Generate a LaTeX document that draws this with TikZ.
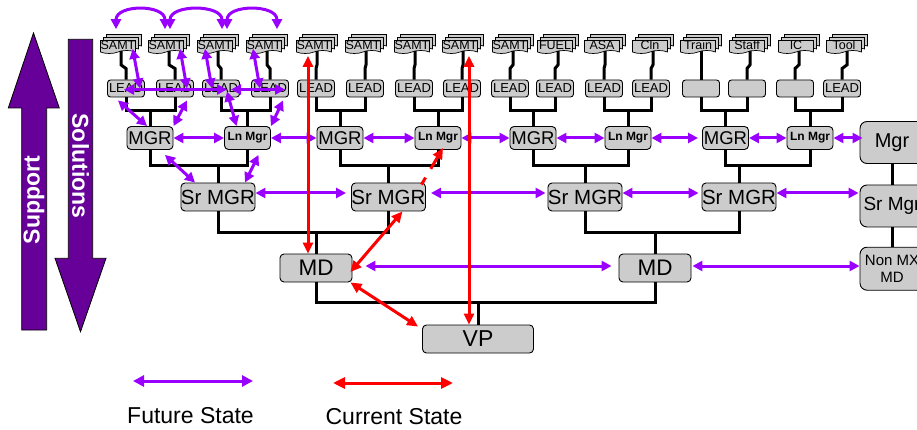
\documentclass[tikz,border=0pt]{standalone}
\usepackage{fontspec}
\setmainfont{Liberation Sans}
\usetikzlibrary{arrows.meta,calc,shapes.symbols,shadows}
\definecolor{boxgray}{HTML}{CCCCCC}
\definecolor{fut}{HTML}{9900FF}
\definecolor{cur}{HTML}{FF0000}
\definecolor{bigpurple}{HTML}{660099}
\begin{document}
\begin{tikzpicture}[x=1pt,y=-1pt,
  box/.style={draw=black, line width=0.9pt, fill=boxgray, rounded corners=4pt, inner sep=0pt, align=center},
  doc/.style={tape, tape bend top=none, tape bend height=3pt, draw=black, line width=0.7pt, fill=boxgray,
    minimum width=35pt, minimum height=13pt, inner sep=0pt,
    copy shadow={shadow xshift=6pt, shadow yshift=6pt, fill=boxgray, draw=black, line width=0.7pt},
    copy shadow={shadow xshift=3pt, shadow yshift=3pt, fill=boxgray, draw=black, line width=0.7pt},
    font=\fontsize{12.5}{14}\selectfont},
  lead/.style={box, minimum width=37pt, minimum height=17pt, rounded corners=3pt, font=\fontsize{13}{15}\selectfont},
  mgr/.style={box, minimum width=46pt, minimum height=23pt, font=\fontsize{18.5}{20}\selectfont},
  lnmgr/.style={box, minimum width=46pt, minimum height=23pt, font=\bfseries\fontsize{12}{14}\selectfont},
  srmgr/.style={box, minimum width=72pt, minimum height=28pt, font=\fontsize{20.5}{22}\selectfont},
  mdbox/.style={box, minimum width=72pt, minimum height=28pt, font=\fontsize{22.5}{24}\selectfont},
  rbox/.style={box, minimum width=64pt, rounded corners=7pt},
  conn/.style={line width=3pt, black},
  fa/.style={line width=3pt, fut, {Triangle[length=10pt,width=10pt]}-{Triangle[length=10pt,width=10pt]}},
  ca/.style={line width=3pt, cur, {Triangle[length=11pt,width=10pt]}-{Triangle[length=11pt,width=10pt]}},
  bigarrow/.style={draw=black, line width=0.8pt, fill=bigpurple},
  bigtext/.style={white, font=\bfseries\fontsize{23}{25}\selectfont},
  legend/.style={font=\fontsize{23}{25}\selectfont}
]
\path[use as bounding box, fill=white] (0,0) rectangle (917,430);

% big arrows
\draw[bigarrow] (21.7,330) -- (21.7,108) -- (8.3,108) -- (33.5,33) -- (59.3,108) -- (46.7,108) -- (46.7,330) -- cycle;
\draw[bigarrow] (68.3,39.3) -- (68.3,258.3) -- (55,258.3) -- (80.5,331.7) -- (106,258.3) -- (92.7,258.3) -- (92.7,39.3) -- cycle;
\node[bigtext, rotate=90] (support) at (34,200) {Support};
\node[bigtext, rotate=-90] (solutions) at (80.5,166) {Solutions};

% documents
\foreach \i/\x/\t in {1/118/SAMT,2/166/SAMT,3/215/SAMT,4/264/SAMT,5/314/SAMT,6/363/SAMT,7/412/SAMT,8/460/SAMT,9/510/SAMT,10/555/FUEL,11/602/ASA,12/650/Cln,13/698/Train,14/747/Staff,15/796/IC,16/844/Tool}
  \node[doc] (S\i) at (\x,45.5) {\t};
% leads
\foreach \i/\x/\t in {1/126/LEAD,2/175/LEAD,3/221/LEAD,4/270/LEAD,5/316/LEAD,6/365/LEAD,7/414/LEAD,8/462/LEAD,9/510/LEAD,10/555/LEAD,11/604/LEAD,12/651/LEAD,13/701/{},14/747/{},15/795/{},16/842/LEAD}
  \node[lead] (L\i) at (\x,88.5) {\t};

% managers
\node[mgr] (M1) at (150,138) {MGR};
\node[lnmgr] (LM1) at (247.5,138) {Ln Mgr};
\node[mgr] (M2) at (340,138) {MGR};
\node[lnmgr] (LM2) at (438,138) {Ln Mgr};
\node[mgr] (M3) at (533,138) {MGR};
\node[lnmgr] (LM3) at (628,138) {Ln Mgr};
\node[mgr] (M4) at (725.5,138) {MGR};
\node[lnmgr] (LM4) at (810,138) {Ln Mgr};

\node[srmgr] (SR1) at (218,197) {Sr MGR};
\node[srmgr] (SR2) at (388.5,197) {Sr MGR};
\node[srmgr] (SR3) at (585,197) {Sr MGR};
\node[srmgr] (SR4) at (739,197) {Sr MGR};

\node[mdbox] (MD1) at (316,268) {MD};
\node[mdbox] (MD2) at (655,268) {MD};
\node[box, minimum width=111pt, minimum height=28pt, font=\fontsize{23}{25}\selectfont] (VP) at (478,339) {VP};

\node[rbox, minimum height=42pt, font=\fontsize{20}{22}\selectfont] (R1) at (892,142.5) {Mgr};
\node[rbox, minimum height=42pt, font=\fontsize{19}{21}\selectfont] (R2) at (892,206) {Sr Mgr};
\node[rbox, minimum height=43pt, font=\fontsize{15}{17}\selectfont] (R3) at (892,268.7) {Non MX\\MD};

% black tree connectors
\foreach \i in {1,...,16}
  \draw[conn] ($(S\i.south)+(3,0)$) -- ++(0,14) -- ($(L\i.north)+(0,-11)$) -- (L\i.north);
\foreach \a/\b/\p in {1/2/M1,3/4/LM1,5/6/M2,7/8/LM2,9/10/M3,11/12/LM3,13/14/M4,15/16/LM4} {
  \coordinate (J\p) at ($(\p.north)+(0,-15.5)$);
  \draw[conn] (L\a.south) |- (J\p) -| (L\b.south);
  \draw[conn] (J\p) -- (\p.north);
}
\foreach \a/\b/\p in {M1/LM1/SR1,M2/LM2/SR2,M3/LM3/SR3,M4/LM4/SR4} {
  \coordinate (J\p) at ($(\p.north)+(0,-17)$);
  \draw[conn] (\a.south) |- (J\p) -| (\b.south);
  \draw[conn] (J\p) -- (\p.north);
}
\foreach \a/\b/\p in {SR1/SR2/MD1,SR3/SR4/MD2} {
  \coordinate (J\p) at ($(\p.north)+(0,-21)$);
  \draw[conn] (\a.south) |- (J\p) -| (\b.south);
  \draw[conn] (J\p) -- (\p.north);
}
\coordinate (JVP) at ($(VP.north)+(0,-22)$);
\draw[conn] (MD1.south) |- (JVP) -| (MD2.south);
\draw[conn] (JVP) -- (VP.north);
\draw[conn] (R1.south) -- (R2.north);
\draw[conn] (R2.south) -- (R3.north);

% future state (purple)
\draw[fa] ($(S1.north)+(-2,-11)$) .. controls +(0,-25) and +(0,-25) .. ($(S2.north)+(-1,-11)$);
\draw[fa] ($(S2.north)+(4,-11)$) .. controls +(0,-25) and +(0,-25) .. ($(S3.north)+(7,-11)$);
\draw[fa] ($(S3.north)+(12,-11)$) .. controls +(0,-25) and +(0,-25) .. ($(S4.north)+(13,-11)$);
\draw[fa] ($(S1.south)+(14.7,-2)$) -- ($(L1.center)+(14,0)$);
\draw[fa] ($(S2.south)+(14,-2)$) -- ($(L2.center)+(12,0)$);
\draw[fa] ($(S3.south)+(-10,-2)$) -- ($(L3.center)+(-9,0)$);
\draw[fa] ($(S4.south)+(-11,-2)$) -- ($(L4.center)+(-10,0)$);
\draw[fa] ($(L1.center)+(-2,1)$) -- ($(L3.center)+(6,1)$);
\draw[fa] ($(L3.center)+(10,1)$) -- ($(L4.center)+(15,1)$);
\draw[fa] ($(L1.south)+(-8,3)$) -- ($(M1.north)+(-3,0)$);
\draw[fa] ($(L2.south)+(12,3)$) -- (M1.north east);
\draw[fa] ($(L3.center)+(6,3)$) -- ($(LM1.north)+(-11,0)$);
\draw[fa] ($(L4.south)+(13,3)$) -- (LM1.north east);
\draw[fa] (M1.east) -- (LM1.west);
\draw[fa] (LM1.east) -- (M2.west);
\draw[fa] (M2.east) -- (LM2.west);
\draw[fa] (LM2.east) -- (M3.west);
\draw[fa] (M3.east) -- (LM3.west);
\draw[fa] (LM3.east) -- ($(M4.west)+(-4,0)$);
\draw[fa] (M4.east) -- (LM4.west);
\draw[fa] (LM4.east) -- ($(LM4.east -| R1.west)+(3,0)$);
\draw[fa] ($(M1.south)+(15,5)$) -- ($(SR1.north)+(-23,0)$);
\draw[fa] ($(LM1.south)+(11,5)$) -- ($(SR1.north)+(27,0)$);
\draw[fa] ($(SR1.east)+(0,-4)$) -- ($(SR2.west)+(-5,-4)$);
\draw[fa] ($(SR2.east)+(5,-4)$) -- ($(SR3.west)+(-2,-4)$);
\draw[fa] ($(SR3.east)+(0,-4)$) -- ($(SR4.west)+(-3,-4)$);
\draw[fa] ($(SR4.east)+(0,-4)$) -- ($(SR4.east -| R2.west)+(-1,-4)$);
\draw[fa] ($(MD1.east)+(13,-2)$) -- ($(MD2.west)+(-7,-2)$);
\draw[fa] ($(MD2.east)+(1,-2)$) -- ($(MD2.east -| R3.west)+(0,-2)$);

% current state (red)
\draw[ca] ($(S5.south)+(-6,5)$) -- ($(MD1.north)+(-8,0)$);
\draw[ca] ($(S8.south)+(9,5)$) -- ($(VP.north)+(-9,0)$);
\draw[ca] ($(MD1.east)+(-2,4)$) -- ($(SR2.south)+(14,0)$);
\draw[ca] ($(MD1.south east)+(-2,0)$) -- ($(VP.north west)+(-4,2)$);
\coordinate (r5a) at ($(SR2.north east)+(-4.5,2)$);
\coordinate (r5b) at ($(LM2.south)+(5,-2)$);
\draw[cur, line width=3pt] (r5a) -- ($(r5a)!0.19!(r5b)$);
\draw[cur, line width=3pt, -{Triangle[length=11pt,width=10pt]}] ($(r5a)!0.43!(r5b)$) -- (r5b);

% legend
\coordinate (fa1) at (133,381);
\coordinate (fa2) at (253,381);
\coordinate (ca1) at (333,383);
\coordinate (ca2) at (453,383);
\draw[fa, {Triangle[length=11pt,width=11pt]}-{Triangle[length=11pt,width=11pt]}] (fa1) -- (fa2);
\draw[ca, {Triangle[length=12pt,width=11pt]}-{Triangle[length=12pt,width=11pt]}] (ca1) -- (ca2);
\node[legend] (futlbl) at (190.5,416) {Future State};
\node[legend] (curlbl) at (394,417) {Current State};
\end{tikzpicture}
\end{document}
